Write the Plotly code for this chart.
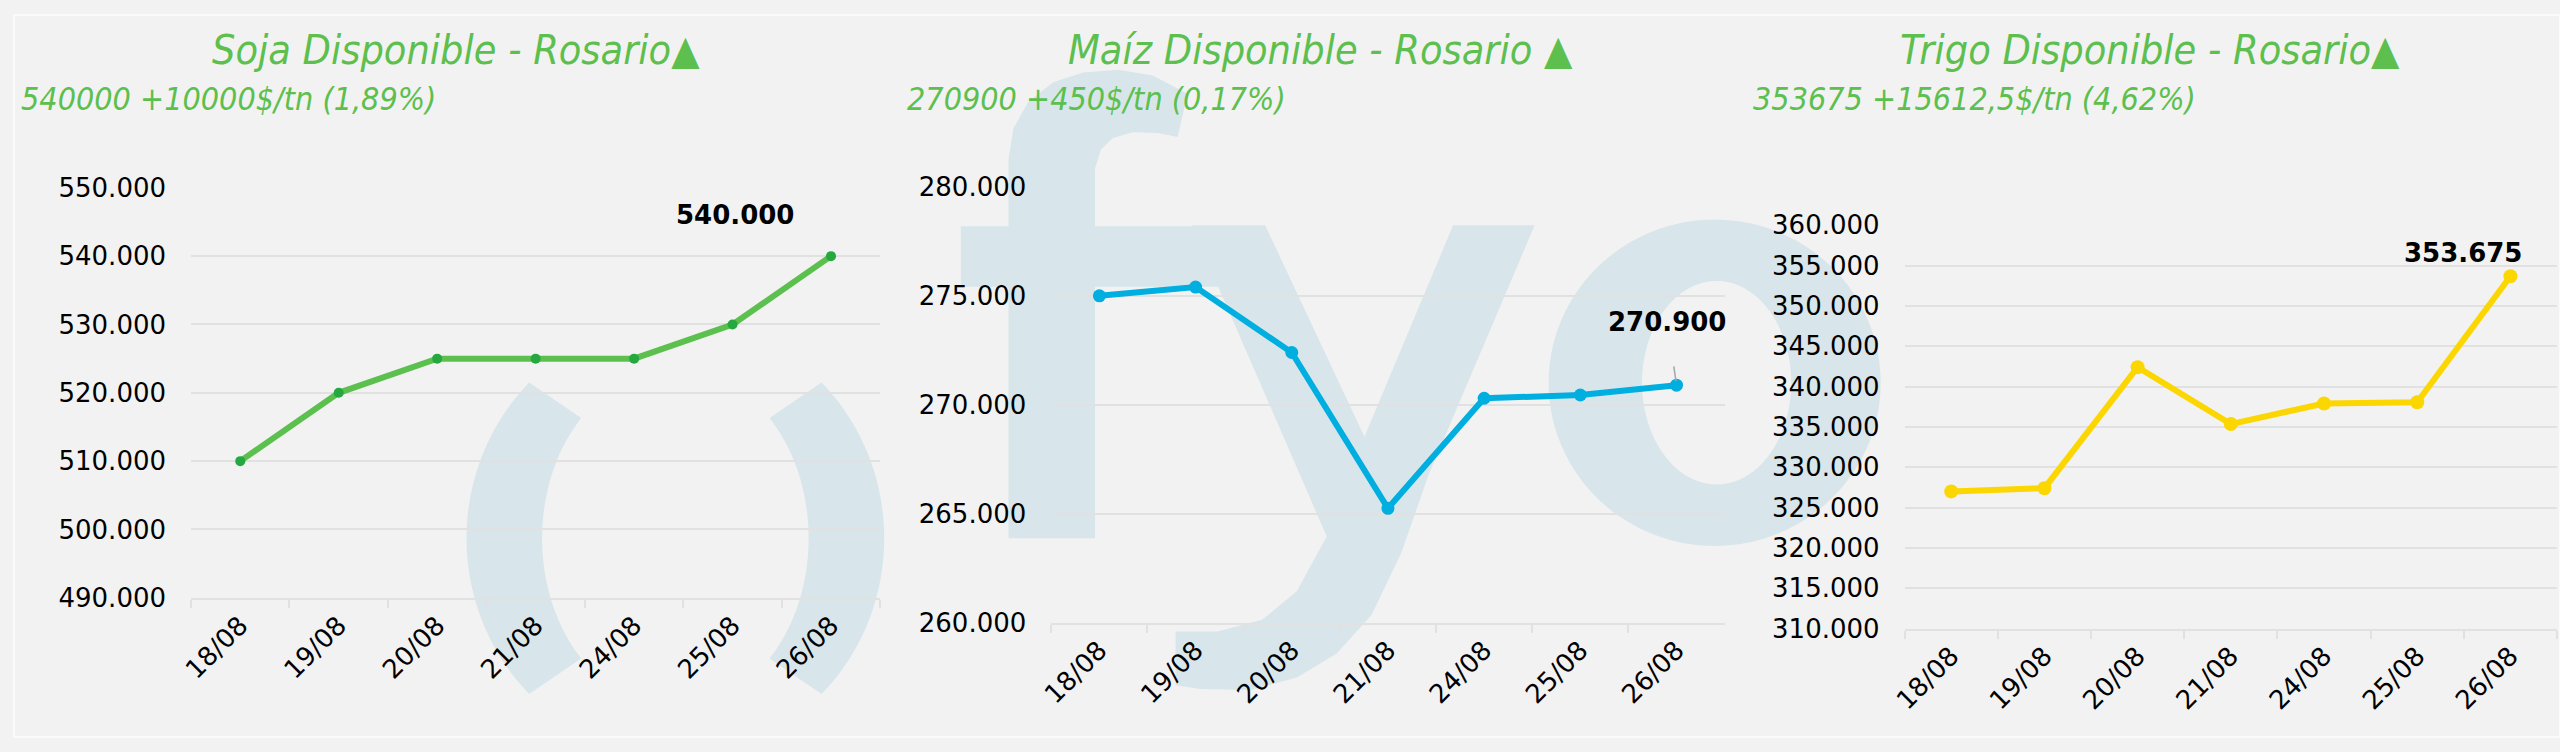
import numpy as np
import plotly.graph_objects as go

W, H = 2560, 752

# data
fechas = ["18/08", "19/08", "20/08", "21/08", "24/08", "25/08", "26/08"]
soja = [510000, 520000, 525000, 525000, 525000, 530000, 540000]
maiz = [275000, 275400, 272400, 265250, 270300, 270450, 270900]
trigo = [327000, 327400, 342400, 335350, 337900, 338062.5, 353675]

titulos = ["Soja Disponible - Rosario▲", "Maíz Disponible - Rosario ▲", "Trigo Disponible - Rosario▲"]
subtitulos = ["540000 +10000$/tn (1,89%)", "270900 +450$/tn (0,17%)", "353675 +15612,5$/tn (4,62%)"]

GREEN = "#5cbf4e"
BG = "#f2f2f2"
GRID = "#e1e1e1"
WM = "#d8e6eb"
COND = "DejaVu Sans Condensed, Liberation Sans Narrow, DejaVu Sans, sans-serif"
TICKFONT = dict(family="DejaVu Sans, Verdana, sans-serif", size=26, color="#000")


def px(x, y):
    return x / W, 1 - y / H


def path(points, close=True):
    s = ""
    for i, (x, y) in enumerate(points):
        u, v = px(x, y)
        s += ("M" if i == 0 else "L") + f"{u:.5f},{v:.5f} "
    return s + ("Z" if close else "")


def arc(cx, cy, rx, ry, t0, t1, n=48):
    t = np.radians(np.linspace(t0, t1, n))
    return list(zip(cx + rx * np.cos(t), cy + ry * np.sin(t)))


# watermark "fyo" logo pieces (pixel geometry)
wm_paths = []
# panel 1: two crescents
wm_paths.append(path(arc(665, 545, 210, 227, 225.6, 134.4) + arc(665, 545, 134, 177, 135, 225)))
wm_paths.append(path(arc(665, 545, 210, 227, -45.6, 45.6) + arc(665, 545, 134, 177, 45, -45)))
# f
f_hook = [(1000, 150), (1005, 118), (1020, 90), (1045, 70), (1075, 60), (1110, 57),
          (1145, 63), (1180, 82), (1170, 127), (1150, 123), (1125, 122), (1105, 128),
          (1093, 140), (1087, 160)]
wm_paths.append(path([(1000, 545), (1000, 283), (952, 283), (952, 220), (1000, 220)] + f_hook +
                     [(1087, 220), (1205, 220), (1225, 283), (1087, 283), (1087, 545)]))
# y
wm_paths.append(path([(1184, 219), (1258, 219), (1365, 455), (1322, 548)]))
wm_paths.append(path([(1447, 219), (1529, 219), (1422, 480), (1395, 560), (1365, 625),
                      (1330, 665), (1290, 690), (1243, 703), (1193, 702), (1168, 698),
                      (1168, 642), (1210, 642), (1255, 630), (1290, 600), (1320, 543),
                      (1360, 434)]))
# o ring
ring = path(arc(1710, 383, 167, 170, 0, 360, 90)) + " " + path(arc(1712, 383, 75, 106, 360, 0, 90))

shapes = [dict(type="path", path=p, xref="paper", yref="paper", fillcolor=WM,
               line=dict(width=0), layer="below") for p in wm_paths]
shapes.append(dict(type="path", path=ring, xref="paper", yref="paper", fillcolor=WM,
                   fillrule="evenodd", line=dict(width=0), layer="below"))
# thin light frame round the picture
shapes.append(dict(type="rect", xref="paper", yref="paper", x0=0, y0=0, x1=1, y1=1,
                   line=dict(color="#fafafa", width=2), layer="above"))

fig = go.Figure()

series = [
    (soja, "#5cc04f", "#25a83f", 10, "x", "y"),
    (maiz, "#00aee0", "#00aee0", 13, "x2", "y2"),
    (trigo, "#fcd600", "#fcd600", 14, "x3", "y3"),
]
for vals, lc, mc, ms, xa, ya in series:
    fig.add_trace(go.Scatter(
        x=fechas, y=vals, mode="lines+markers", xaxis=xa, yaxis=ya,
        line=dict(color=lc, width=6), marker=dict(color=mc, size=ms),
        hoverinfo="x+y", showlegend=False,
    ))

# pixel layout of the three panels
xdom = [(178, 871), (1043, 1720), (1901, 2557)]
ydom = [(607, 180), (633, 179), (639, 219)]
yrng = [(490000, 550000, 10000), (260000, 280000, 5000), (310000, 360000, 5000)]

lay = {}
for i in range(3):
    sfx = "" if i == 0 else str(i + 1)
    lay["xaxis" + sfx] = dict(
        domain=[xdom[i][0] / W, xdom[i][1] / W], anchor="y" + sfx, type="category",
        range=[-0.5, 6.5], showgrid=False, zeroline=False, showline=True,
        linecolor=GRID, linewidth=2, ticks="outside", tickson="boundaries",
        ticklen=8, tickwidth=2, tickcolor=GRID, tickangle=-45, tickfont=TICKFONT,
    )
    lay["yaxis" + sfx] = dict(
        domain=[1 - ydom[i][0] / H, 1 - ydom[i][1] / H], anchor="x" + sfx,
        range=[yrng[i][0], yrng[i][1]], dtick=yrng[i][2], tick0=yrng[i][0],
        tickformat=",d", showgrid=True, gridcolor=GRID, gridwidth=2, zeroline=False,
        showline=False, ticks="", ticklabelstandoff=24, tickfont=TICKFONT,
    )

annotations = []
tcx = [444, 1314, 2148]
sx = [5, 896, 1747]
for i in range(3):
    u, v = px(tcx[i], 36)
    annotations.append(dict(
        x=u, y=v, xref="paper", yref="paper", text=titulos[i], showarrow=False,
        xanchor="center", yanchor="middle",
        font=dict(family=COND, size=41, color=GREEN, style="italic"),
    ))
    u, v = px(sx[i], 87)
    annotations.append(dict(
        x=u, y=v, xref="paper", yref="paper", text=subtitulos[i], showarrow=False,
        xanchor="left", yanchor="middle",
        font=dict(family=COND, size=32, color=GREEN, style="italic"),
    ))


def fmt(v):
    return f"{v:,.0f}".replace(",", ".")


lblfont = dict(family="DejaVu Sans, Verdana, sans-serif", size=26, color="#000", weight="bold")
annotations.append(dict(x=fechas[-1], y=soja[-1], xref="x", yref="y", text=fmt(soja[-1]),
                        showarrow=False, xshift=-96, yshift=41, font=lblfont))
annotations.append(dict(x=fechas[-1], y=maiz[-1], xref="x2", yref="y2", text=fmt(maiz[-1]),
                        showarrow=True, ax=-9, ay=-63, arrowhead=0, arrowwidth=1.5,
                        arrowcolor="#a6a6a6", standoff=4, startstandoff=28, font=lblfont))
annotations.append(dict(x=fechas[-1], y=trigo[-1], xref="x3", yref="y3", text=fmt(trigo[-1]),
                        showarrow=False, xshift=-47, yshift=23, font=lblfont))

fig.update_layout(
    width=W, height=H, margin=dict(l=0, r=0, t=0, b=0),
    paper_bgcolor=BG, plot_bgcolor="rgba(0,0,0,0)",
    separators=",.", shapes=shapes, annotations=annotations,
    **lay,
)

fig.write_html("out.html", config={"displayModeBar": False},
               post_script="document.body.style.margin='0';document.body.style.overflow='hidden';")
